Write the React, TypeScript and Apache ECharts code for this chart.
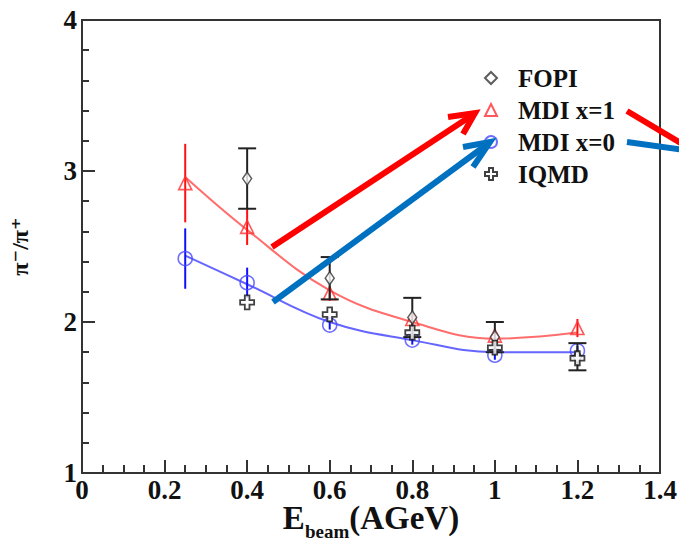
import React, { useEffect, useRef } from "react";
import * as echarts from "echarts";

// ---- data ----
const xTicks = [0, 0.2, 0.4, 0.6, 0.8, 1.0, 1.2, 1.4];
const yTicks = [1, 2, 3, 4];

const mdiEnergies = [0.25, 0.4, 0.6, 0.8, 1.0, 1.2];
const mdiX1 = [2.92, 2.63, 2.19, 2.02, 1.91, 1.96];
const mdiX1Err = [0.26, 0.12, 0.05, 0.05, 0.04, 0.06];
const mdiX0 = [2.42, 2.26, 1.98, 1.88, 1.78, 1.81];
const mdiX0Err = [0.2, 0.1, 0.03, 0.03, 0.03, 0.03];

const fitX1 = [2.96, 2.61, 2.21, 2.0, 1.89, 1.93];
const fitX0 = [2.44, 2.25, 2.0, 1.88, 1.8, 1.8];

const expEnergies = [0.4, 0.6, 0.8, 1.0, 1.2];
const fopi = [2.95, 2.29, 2.03, 1.9, 1.77];
const fopiErr = [0.2, 0.14, 0.13, 0.1, 0.09];
const iqmd = [2.13, 2.05, 1.93, 1.83, 1.76];

const legendNames = ["FOPI", "MDI x=1", "MDI x=0", "IQMD"];

const SERIF = "'Liberation Serif', 'DejaVu Serif', serif";
const CROSS =
  "path://M4,0 L8,0 L8,4 L12,4 L12,8 L8,8 L8,12 L4,12 L4,8 L0,8 L0,4 L4,4 Z";

function errData(xs: number[], ys: number[], es: number[]) {
  return xs.map((x, i) => [x, ys[i] - es[i], ys[i] + es[i]]);
}

function errSeries(name: string, data: number[][], color: string, cap: number, z: number) {
  return {
    type: "custom",
    name,
    z,
    silent: true,
    renderItem: (_p: any, api: any) => {
      const x = api.value(0);
      const top = api.coord([x, api.value(2)]);
      const bot = api.coord([x, api.value(1)]);
      const style = { stroke: color, lineWidth: 2 };
      const children: any[] = [
        { type: "line", shape: { x1: top[0], y1: top[1], x2: bot[0], y2: bot[1] }, style },
      ];
      if (cap > 0) {
        children.push({
          type: "line",
          shape: { x1: top[0] - cap / 2, y1: top[1], x2: top[0] + cap / 2, y2: top[1] },
          style,
        });
        children.push({
          type: "line",
          shape: { x1: bot[0] - cap / 2, y1: bot[1], x2: bot[0] + cap / 2, y2: bot[1] },
          style,
        });
      }
      return { type: "group", children };
    },
    data,
  };
}

export default function App() {
  const ref = useRef<HTMLDivElement>(null);

  useEffect(() => {
    if (!ref.current) return;
    const chart = echarts.init(ref.current, undefined, { renderer: "svg" });

    const axisColor = "#333";
    const option: any = {
      animation: false,
      backgroundColor: "#fff",
      grid: {
        left: 82,
        right: 19,
        top: 20,
        bottom: 70,
        containLabel: false,
        outerBoundsMode: "none",
        show: true,
        borderColor: axisColor,
        borderWidth: 2,
        backgroundColor: "transparent",
      },
      legend: {
        data: legendNames,
        orient: "vertical",
        left: 479,
        top: 60,
        itemWidth: 12,
        itemHeight: 12,
        itemGap: 6,
        selectedMode: false,
        textStyle: {
          fontFamily: SERIF,
          fontWeight: "bold",
          fontSize: 25,
          color: "#111",
          lineHeight: 26,
          padding: [0, 0, 0, 16],
        },
      },
      xAxis: {
        type: "value",
        min: xTicks[0],
        max: xTicks[xTicks.length - 1],
        interval: 0.2,
        name: "{e|E}{sub|beam}{u|(AGeV)}",
        nameLocation: "middle",
        nameGap: 38,
        nameMoveOverlap: false,
        nameTextStyle: {
          rich: {
            e: { fontFamily: SERIF, fontWeight: "bold", fontSize: 33, lineHeight: 30, color: "#111", padding: [0, 0, 7, 0], verticalAlign: "bottom" },
            sub: { fontFamily: SERIF, fontWeight: "bold", fontSize: 19, lineHeight: 19, color: "#111", verticalAlign: "bottom" },
            u: { fontFamily: SERIF, fontWeight: "bold", fontSize: 33, lineHeight: 30, color: "#111", padding: [0, 0, 7, 0], verticalAlign: "bottom" },
          },
        },
        axisLine: { show: true, lineStyle: { color: axisColor, width: 2 } },
        axisTick: { show: true, inside: true, length: 13, lineStyle: { color: axisColor, width: 2 } },
        minorTick: { show: true, splitNumber: 4, length: 8, lineStyle: { color: axisColor, width: 2 } },
        splitLine: { show: false },
        axisLabel: {
          margin: 3,
          fontFamily: SERIF,
          fontWeight: "bold",
          fontSize: 27,
          color: "#111",
        },
      },
      yAxis: {
        type: "value",
        min: yTicks[0],
        max: yTicks[yTicks.length - 1],
        interval: 1,
        name: "π⁻/π⁺",
        nameLocation: "middle",
        nameRotate: 90,
        nameGap: 50,
        nameMoveOverlap: false,
        nameTextStyle: { fontFamily: SERIF, fontWeight: "bold", fontSize: 24, color: "#111" },
        axisLine: { show: true, lineStyle: { color: axisColor, width: 2 } },
        axisTick: { show: true, inside: true, length: 13, lineStyle: { color: axisColor, width: 2 } },
        minorTick: { show: true, splitNumber: 5, length: 7, lineStyle: { color: axisColor, width: 2 } },
        splitLine: { show: false },
        axisLabel: {
          margin: 5,
          fontFamily: SERIF,
          fontWeight: "bold",
          fontSize: 27,
          color: "#111",
        },
      },
      series: [
        {
          type: "line",
          name: "fit x=1",
          smooth: 0.4,
          showSymbol: false,
          z: 1,
          lineStyle: { color: "rgba(255,60,60,0.75)", width: 2 },
          data: mdiEnergies.map((x, i) => [x, fitX1[i]]),
        },
        {
          type: "line",
          name: "fit x=0",
          smooth: 0.4,
          showSymbol: false,
          z: 1,
          lineStyle: { color: "rgba(50,50,255,0.75)", width: 2 },
          data: mdiEnergies.map((x, i) => [x, fitX0[i]]),
        },
        errSeries("err x=0", errData(mdiEnergies, mdiX0, mdiX0Err), "#1010ff", 0, 2),
        {
          type: "scatter",
          name: "MDI x=0",
          symbol: "circle",
          symbolSize: 14,
          z: 3,
          itemStyle: { color: "rgba(255,255,255,0)", borderColor: "#4a4aff", borderWidth: 1.6 },
          data: mdiEnergies.map((x, i) => [x, mdiX0[i]]),
        },
        errSeries("err x=1", errData(mdiEnergies, mdiX1, mdiX1Err), "#ff1010", 0, 4),
        {
          type: "scatter",
          name: "MDI x=1",
          symbol: "triangle",
          symbolSize: 13,
          z: 5,
          itemStyle: { color: "rgba(255,255,255,0)", borderColor: "#ff3030", borderWidth: 1.6 },
          data: mdiEnergies.map((x, i) => [x, mdiX1[i]]),
        },
        errSeries("err fopi", errData(expEnergies, fopi, fopiErr), "#222", 18, 6),
        {
          type: "scatter",
          name: "FOPI",
          symbol: "diamond",
          symbolSize: [9, 13],
          z: 7,
          itemStyle: { color: "#fff", borderColor: "#333", borderWidth: 1.5 },
          data: expEnergies.map((x, i) => [x, fopi[i]]),
        },
        {
          type: "scatter",
          name: "IQMD",
          symbol: CROSS,
          symbolSize: 14,
          z: 8,
          itemStyle: { color: "#fff", borderColor: "#111", borderWidth: 1.8 },
          data: expEnergies.map((x, i) => [x, iqmd[i]]),
        },
      ],
      graphic: [
        // red annotation arrow
        { type: "line", z: 100, shape: { x1: 272, y1: 247, x2: 474, y2: 114 }, style: { stroke: "#ff0000", lineWidth: 6 } },
        { type: "polyline", z: 100, shape: { points: [[448, 117], [475, 113], [463, 134]] }, style: { stroke: "#ff0000", lineWidth: 6, fill: null, lineJoin: "miter" } },
        // blue annotation arrow
        { type: "line", z: 100, shape: { x1: 273, y1: 302, x2: 489, y2: 143 }, style: { stroke: "#0070c0", lineWidth: 6 } },
        { type: "polyline", z: 100, shape: { points: [[463, 147], [490, 142], [473, 167]] }, style: { stroke: "#0070c0", lineWidth: 6, fill: null, lineJoin: "miter" } },
        // lines leaving to the right
        { type: "line", z: 100, shape: { x1: 627, y1: 111, x2: 684, y2: 145 }, style: { stroke: "#ff0000", lineWidth: 6 } },
        { type: "line", z: 100, shape: { x1: 627, y1: 142, x2: 684, y2: 150 }, style: { stroke: "#0070c0", lineWidth: 6 } },
      ],
    };

    chart.setOption(option);
    return () => chart.dispose();
  }, []);

  return (
    <div
      ref={ref}
      style={{ position: "absolute", left: 0, top: 0, width: 679, height: 543 }}
    />
  );
}
